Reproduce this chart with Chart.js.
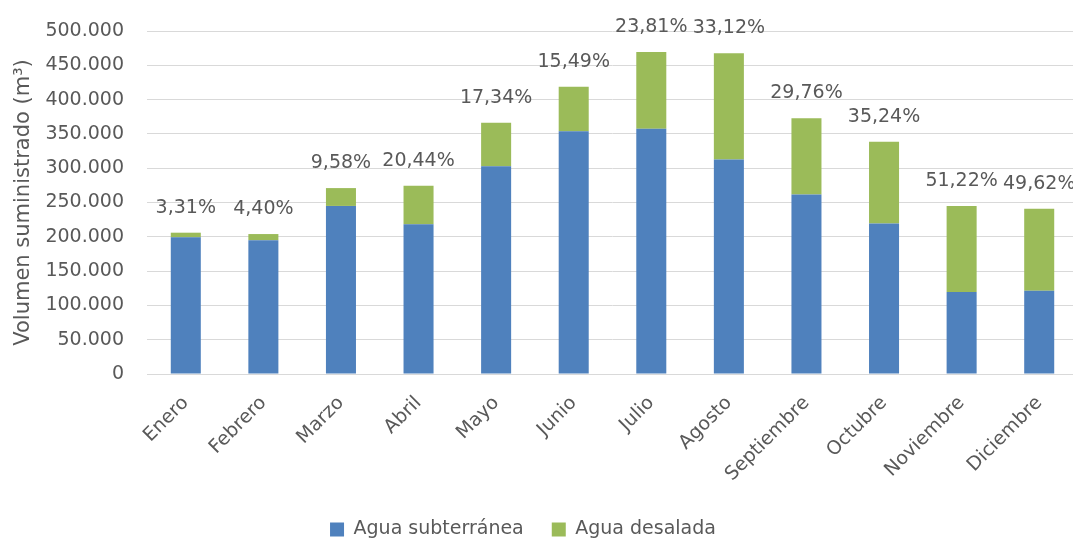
<!DOCTYPE html>
<html>
<head>
<meta charset="utf-8">
<script src="https://cdn.jsdelivr.net/npm/chart.js@4/dist/chart.umd.min.js"></script>
<style>
  body { margin: 0; overflow: hidden; background: #fff; }
</style>
</head>
<body>
<canvas id="grafico" width="1080" height="541"></canvas>
<script>
const meses = ["Enero", "Febrero", "Marzo", "Abril", "Mayo", "Junio", "Julio", "Agosto", "Septiembre", "Octubre", "Noviembre", "Diciembre"];
const aguaSubterranea = [199200, 195000, 245000, 218400, 302800, 353900, 357600, 312700, 261800, 219300, 119500, 121400];
const aguaDesalada = [6800, 9000, 26000, 56100, 63500, 64900, 111800, 154800, 110900, 119300, 125400, 119600];
const porcentajeDesalada = [3.31, 4.40, 9.58, 20.44, 17.34, 15.49, 23.81, 33.12, 29.76, 35.24, 51.22, 49.62];
const yMax = 500000;
const yPaso = 50000;

const gris = "#595959";
const fuente = "DejaVu Sans";

function miles(v) {
  return String(v).replace(/\B(?=(\d{3})+(?!\d))/g, ".");
}

// etiquetas de % encima de cada columna
const etiquetasPct = {
  id: "etiquetasPct",
  afterDatasetsDraw(chart) {
    const ctx = chart.ctx;
    const meta = chart.getDatasetMeta(1);
    ctx.save();
    ctx.font = "19px '" + fuente + "'";
    ctx.fillStyle = gris;
    ctx.textAlign = "center";
    ctx.textBaseline = "middle";
    meta.data.forEach((bar, i) => {
      const txt = porcentajeDesalada[i].toFixed(2).replace(".", ",") + "%";
      ctx.fillText(txt, bar.x, bar.y - 25);
    });
    ctx.restore();
  },
};

// mover la leyenda un poco (Excel la centra distinto)
const moverLeyenda = {
  id: "moverLeyenda",
  afterLayout(chart) {
    const l = chart.legend;
    l.left -= 16;
    l.right -= 16;
    l.top += 8;
    l.bottom += 8;
  },
};

new Chart(document.getElementById("grafico"), {
  type: "bar",
  data: {
    labels: meses,
    datasets: [
      {
        label: "Agua subterránea",
        data: aguaSubterranea,
        backgroundColor: "#4f81bd",
        barPercentage: 0.387,
        categoryPercentage: 1,
      },
      {
        label: "Agua desalada",
        data: aguaDesalada,
        backgroundColor: "#9bbb59",
        barPercentage: 0.387,
        categoryPercentage: 1,
      },
    ],
  },
  options: {
    responsive: false,
    animation: false,
    devicePixelRatio: 1,
    layout: { padding: { top: 31, right: 2, left: 0, bottom: 0 } },
    plugins: {
      tooltip: { enabled: false },
      legend: {
        position: "bottom",
        labels: {
          boxWidth: 14,
          boxHeight: 14,
          padding: 28,
          color: gris,
          font: { family: fuente, size: 19 },
        },
      },
    },
    scales: {
      x: {
        stacked: true,
        grid: { display: false },
        border: { display: true, color: "#d9d9d9" },
        ticks: {
          color: gris,
          font: { family: fuente, size: 19 },
          minRotation: 45,
          maxRotation: 45,
          padding: 10,
        },
        afterFit(s) {
          s.height = 110;
        },
      },
      y: {
        stacked: true,
        min: 0,
        max: yMax,
        grid: { color: "#d9d9d9", drawTicks: false },
        border: { display: false },
        ticks: {
          stepSize: yPaso,
          padding: 23,
          color: gris,
          font: { family: fuente, size: 19 },
          callback: (v) => miles(v),
        },
        title: {
          display: true,
          text: "Volumen suministrado (m³)",
          color: gris,
          font: { family: fuente, size: 21 },
          padding: { top: 11, bottom: 0 },
        },
        afterFit(s) {
          s.width = 147;
          s.paddingTop = 0;
          s.paddingBottom = 0;
        },
      },
    },
  },
  plugins: [etiquetasPct, moverLeyenda],
});
</script>
</body>
</html>
